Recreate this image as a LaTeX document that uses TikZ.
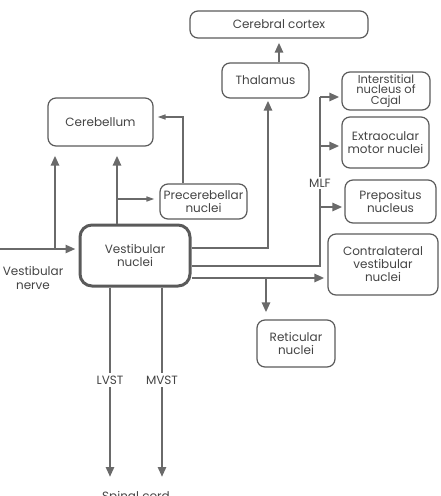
\documentclass[tikz,border=0pt]{standalone}
\usepackage{fontspec}
\setmainfont{Poppins}
\usetikzlibrary{arrows.meta}
\definecolor{ln}{HTML}{6A6A6A}
\definecolor{tx}{HTML}{444444}
\definecolor{bd}{HTML}{5A5A5A}
\tikzset{
  box/.style={draw=bd, line width=1.2pt, rounded corners=8pt, align=center, inner sep=1pt,
    font=\fontsize{12}{13}\selectfont, text=tx},
  vnbox/.style={box, line width=3pt, rounded corners=12pt},
  lbl/.style={font=\fontsize{12}{13.5}\selectfont, text=tx, align=center, inner sep=1pt},
  thk/.style={draw=ln, line width=2.8pt, -{Triangle[length=10pt,width=8pt]}},
  thkline/.style={draw=ln, line width=2.8pt},
  thn/.style={draw=ln, line width=1.5pt, -{Triangle[length=8pt,width=5pt]}},
}
\begin{document}
\begin{tikzpicture}[x=1pt,y=-1pt]
\useasboundingbox (0,0) rectangle (440,496);
% boxes
\node[box, minimum width=178pt, minimum height=27pt] (cortex) at (279,24.5) {Cerebral cortex};
\node[box, minimum width=87pt, minimum height=35pt] (thal) at (265.5,80.5) {Thalamus};
\node[box, minimum width=88pt, minimum height=38pt, font=\fontsize{11.5}{10.5}\selectfont] (inc) at (386,91) {Interstitial\\nucleus of\\Cajal};
\node[box, minimum width=87pt, minimum height=51pt] (eom) at (385.5,142.5) {Extraocular\\motor nuclei};
\node[box, minimum width=91pt, minimum height=43pt] (prep) at (390.5,201.5) {Prepositus\\nucleus};
\node[box, minimum width=110pt, minimum height=61pt] (contra) at (383,264.5) {Contralateral\\vestibular\\nuclei};
\node[box, minimum width=105pt, minimum height=48pt] (cereb) at (100.5,122) {Cerebellum};
\node[box, minimum width=87pt, minimum height=35pt] (precer) at (203.5,201.5) {Precerebellar\\nuclei};
\node[vnbox, minimum width=110pt, minimum height=61pt] (vn) at (135,255.5) {Vestibular\\nuclei};
\node[box, minimum width=78pt, minimum height=47pt] (retic) at (296,343.5) {Reticular\\nuclei};
\node[lbl] (nerve) at (33,278) {Vestibular\\nerve};
\node[lbl, anchor=north] (spinal) at (136,490) {Spinal cord};
% coordinates
\coordinate (nv0) at (0,249);
\coordinate (nvb) at (55,249);
\coordinate (vtop) at (117,0);
\coordinate (pb) at (117,199);
\coordinate (pu) at (183,117);
\coordinate (th) at (268,248);
\coordinate (mlfc) at (320,266);
\coordinate (mlft) at (320,97);
\coordinate (mb1) at (320,146);
\coordinate (mb2) at (320,207);
\coordinate (ct) at (0,278);
\coordinate (rb) at (266,278);
\coordinate (lv) at (110,477);
\coordinate (mv) at (162,477);
% connectors
\draw[thk, shorten >=3pt] (nv0) -- (vn.west |- nv0);
\draw[thk, shorten >=9pt] (nvb) -- (nvb |- cereb.south);
\draw[thk, shorten >=9pt] (vn.north -| vtop) -- (vtop |- cereb.south);
\draw[thn, shorten >=5pt] (pb) -- (precer.west |- pb);
\draw[thn, shorten >=4pt] (precer.north -| pu) -- (pu) -- (cereb.east |- pu);
\draw[thk, shorten >=2pt] (vn.east |- th) -- (th) -- (th |- thal.south);
\draw[thk, shorten >=4pt] (thal.north -| cortex.south) -- (cortex.south);
\draw[thkline] (vn.east |- mlfc) -- (mlfc) -- (mlft);
\draw[thk, shorten >=2pt] (mlft) -- (inc.west |- mlft);
\draw[thk, shorten >=2pt] (mb1) -- (eom.west |- mb1);
\draw[thk, shorten >=2pt] (mb2) -- (prep.west |- mb2);
\node[lbl, fill=white, inner sep=2pt] (mlf) at (320,183) {MLF};
\draw[thk, shorten >=3pt] (vn.east |- ct) -- (contra.west |- ct);
\draw[thk, shorten >=7pt] (rb) -- (rb |- retic.north);
\draw[thk] (vn.south -| lv) -- (lv);
\draw[thk] (vn.south -| mv) -- (mv);
\node[lbl, fill=white, inner sep=3pt] (lvst) at (110,380) {LVST};
\node[lbl, fill=white, inner sep=3pt] (mvst) at (162,380) {MVST};
\end{tikzpicture}
\end{document}
